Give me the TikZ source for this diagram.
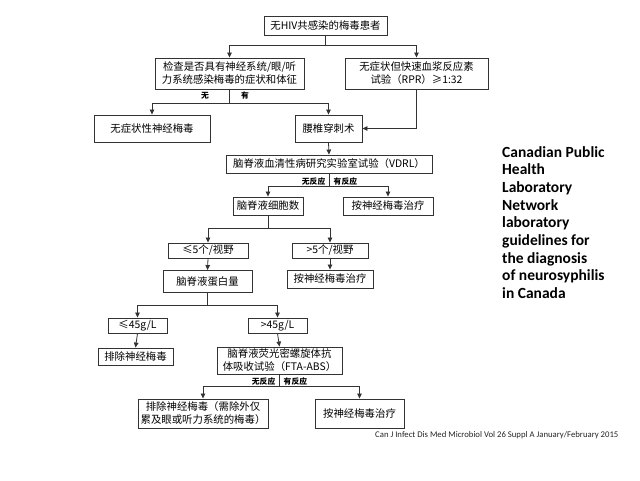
\documentclass[tikz,border=0pt]{standalone}
\usepackage{fontspec}
\setmainfont{Noto Sans CJK SC}
\newfontfamily\latinfont{Carlito}
\usetikzlibrary{arrows.meta}
\definecolor{ln}{HTML}{333333}
\tikzset{
  box/.style={draw=ln, line width=0.9pt, inner sep=0pt, align=center, text=black,
    font=\fontsize{10.4}{13}\selectfont},
  arr/.style={draw=ln, line width=0.8pt, -{Triangle[width=4.5pt,length=5pt]}},
  lnk/.style={draw=ln, line width=0.8pt},
  lab/.style={inner sep=0.5pt, font=\fontsize{7.8}{9}\selectfont\bfseries}
}
\begin{document}
\begin{tikzpicture}[x=1pt,y=-1pt]
\useasboundingbox[fill=white] (0,0) rectangle (640,480);
\node[box, minimum width=123, minimum height=19] (b1) at (325.5,25.5) {无HIV共感染的梅毒患者};
\node[box, minimum width=149, minimum height=31] (b2) at (229.5,73.5) {检查是否具有神经系统/眼/听\\力系统感染梅毒的症状和体征};
\node[box, minimum width=143, minimum height=31] (b3) at (416.5,73.5) {无症状但快速血浆反应素\\试验（RPR）≥1:32};
\node[box, minimum width=116, minimum height=27] (b4) at (152,128.5) {无症状性神经梅毒};
\node[box, minimum width=67, minimum height=27] (b5) at (328.5,128.5) {腰椎穿刺术};
\node[box, minimum width=206, minimum height=18] (b6) at (329,164) {脑脊液血清性病研究实验室试验（VDRL）};
\node[box, minimum width=70, minimum height=18] (b7) at (268,206) {脑脊液细胞数};
\node[box, minimum width=90, minimum height=18] (b8) at (388,206) {按神经梅毒治疗};
\node[box, minimum width=80, minimum height=15] (b9) at (208,250.5) {≤5个/视野};
\node[box, minimum width=76, minimum height=15] (b10) at (330,250.5) {>5个/视野};
\node[box, minimum width=86, minimum height=18] (b11) at (330,279) {按神经梅毒治疗};
\node[box, minimum width=89, minimum height=22] (b12) at (207.5,281.5) {脑脊液蛋白量};
\node[box, minimum width=59, minimum height=15] (b13) at (137.5,325.5) {≤45g/L};
\node[box, minimum width=59, minimum height=15] (b14) at (277.5,325.5) {>45g/L};
\node[box, minimum width=75, minimum height=17] (b15) at (135.5,356.5) {排除神经梅毒};
\node[box, minimum width=125, minimum height=27] (b16) at (279.5,360.5) {脑脊液荧光密螺旋体抗\\体吸收试验（FTA-ABS）};
\node[box, minimum width=130, minimum height=29] (b17) at (203,413.5) {排除神经梅毒（需除外仅\\累及眼或听力系统的梅毒）};
\node[box, minimum width=89, minimum height=29] (b18) at (359.5,413.5) {按神经梅毒治疗};
% connectors
\draw[arr] (b1.south) -- ++(0,10) -| (b2.north);
\draw[arr] (b1.south) -- ++(0,10) -| (b3.north);
\draw[arr] (b2.south) -- ++(0,14) -| (b4.north);
\draw[arr] (b2.south) -- ++(0,14) -| (b5.north);
\draw[arr] (b3.south) |- (b5.east);
\draw[arr] (b5.south) -- (b6.north);
\draw[arr] (b6.south) -- ++(0,13) -| (b7.north);
\draw[arr] (b6.south) -- ++(0,13) -| (b8.north);
\draw[arr] (b7.south) -- ++(0,13) -| (b9.north);
\draw[arr] (b7.south) -- ++(0,13) -| (b10.north);
\draw[arr] (b9.south) -- (b12.north);
\draw[arr] (b10.south) -- (b11.north);
\draw[arr] (b12.south) -- ++(0,12) -| (b13.north);
\draw[arr] (b12.south) -- ++(0,12) -| (b14.north);
\draw[arr] (b13.south) -- (b15.north);
\draw[arr] (b14.south) -- (b16.north);
\draw[arr] (b16.south) -- ++(0,12) -| (b17.north);
\draw[arr] (b16.south) -- ++(0,12) -| (b18.north);
% labels
\node[lab] (l1) at (205,96) {无};
\node[lab] (l2) at (245,96) {有};
\node[lab, anchor=south east] (l3) at (326,186) {无反应};
\node[lab, anchor=south west] (l4) at (333,186) {有反应};
\node[lab, anchor=south east] (l5) at (276,386) {无反应};
\node[lab, anchor=south west] (l6) at (283,386) {有反应};
% side text
\node[anchor=north west, inner sep=0pt, align=left, font=\latinfont\bfseries\fontsize{15.5}{17.7}\selectfont] (side) at (502,146)
{Canadian Public\\Health\\Laboratory\\Network\\laboratory\\guidelines for\\the diagnosis\\of neurosyphilis\\in Canada};
\node[anchor=west, inner sep=0pt, font=\latinfont\fontsize{8.7}{10}\selectfont, text=black!85] (cite) at (375,435)
{Can J Infect Dis Med Microbiol Vol 26 Suppl A January/February 2015};
\end{tikzpicture}
\end{document}
